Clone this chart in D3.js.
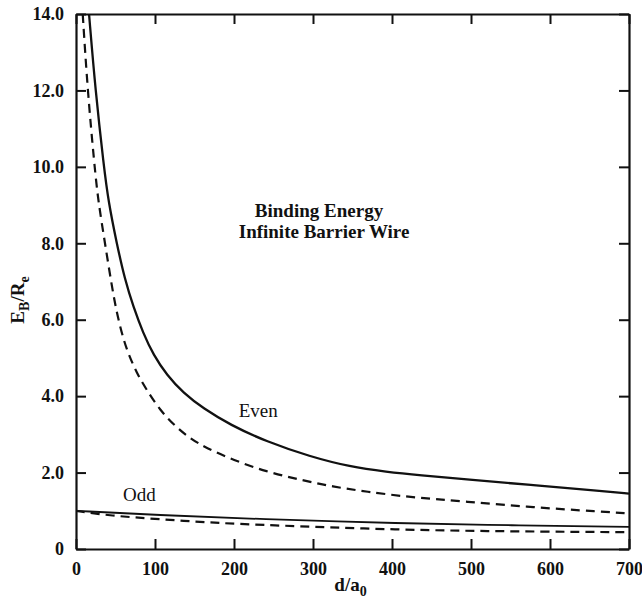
<!DOCTYPE html>
<html>
<head>
<meta charset="utf-8">
<script src="https://cdn.jsdelivr.net/npm/d3@7"></script>
<style>
  body { margin: 0; background: #fff; }
  text { font-family: "Liberation Serif", "DejaVu Serif", serif; fill: #111; }
</style>
</head>
<body>
<svg id="chart" width="642" height="598"></svg>
<script>
// values: d/a0 and E_B/R_e
const evenSolidD = [16.5, 24.6, 35.3, 41, 51.5, 62, 72.6, 85, 98, 115, 136, 161, 195, 241, 296, 347, 393, 435, 494, 579, 663, 700];
const evenSolidE = [14.0, 12.0, 10.0, 9.1, 8.0, 7.04, 6.34, 5.65, 5.08, 4.55, 4.08, 3.68, 3.25, 2.81, 2.42, 2.15, 2.02, 1.93, 1.82, 1.67, 1.52, 1.45];

const evenDashD = [8.5, 14.7, 23.5, 28.2, 36.7, 48.1, 55.7, 64, 77, 89.5, 106, 125.3, 144, 165, 199, 241, 284, 325, 368, 420, 494, 579, 663, 700];
const evenDashE = [14.0, 12.0, 10.0, 9.1, 8.0, 6.52, 5.82, 5.21, 4.6, 4.16, 3.64, 3.22, 2.90, 2.64, 2.33, 2.02, 1.81, 1.63, 1.50, 1.36, 1.24, 1.09, 0.98, 0.93];

const oddSolidD = [0, 102, 233, 410, 550, 700];
const oddSolidE = [1.0, 0.89, 0.78, 0.67, 0.62, 0.58];

const oddDashD = [0, 43, 106, 170, 233, 410, 550, 700];
const oddDashE = [1.0, 0.87, 0.78, 0.69, 0.63, 0.50, 0.46, 0.44];

const xTicks = [0, 100, 200, 300, 400, 500, 600, 700];
const yTicks = [0, 2, 4, 6, 8, 10, 12, 14];

const svg = d3.select("#chart");
const margin = { top: 14, right: 13, bottom: 49, left: 76 };
const width = 642 - margin.left - margin.right;
const height = 598 - margin.top - margin.bottom;

const g = svg.append("g")
  .attr("transform", `translate(${margin.left},${margin.top})`);

const x = d3.scaleLinear().domain([0, 700]).range([0, width]);
const y = d3.scaleLinear().domain([0, 14]).range([height, 0]);

g.append("clipPath").attr("id", "clip")
  .append("rect").attr("width", width).attr("height", height);

const tickLen = 10;

// axes: ticks point inward on all four sides
const xAxisBottom = g.append("g")
  .attr("transform", `translate(0,${height})`)
  .call(d3.axisBottom(x).tickValues(xTicks).tickSizeInner(-tickLen).tickSizeOuter(0).tickPadding(20)
    .tickFormat(d => d));
const yAxisLeft = g.append("g")
  .call(d3.axisLeft(y).tickValues(yTicks).tickSizeInner(-tickLen).tickSizeOuter(0).tickPadding(20)
    .tickFormat(d => d === 0 ? "0" : d3.format(".1f")(d)));
const xAxisTop = g.append("g")
  .call(d3.axisTop(x).tickValues(xTicks).tickSizeInner(-tickLen).tickSizeOuter(0).tickFormat(""));
const yAxisRight = g.append("g")
  .attr("transform", `translate(${width},0)`)
  .call(d3.axisRight(y).tickValues(yTicks).tickSizeInner(-tickLen).tickSizeOuter(0).tickFormat(""));

[xAxisBottom, yAxisLeft, xAxisTop, yAxisRight].forEach(a => {
  a.select(".domain").attr("stroke", "#111").attr("stroke-width", 2.2);
  a.selectAll(".tick line").attr("stroke", "#111").attr("stroke-width", 2);
  a.selectAll("text")
    .style("font-family", "'Liberation Serif', serif")
    .style("font-size", "18px")
    .style("font-weight", "bold")
    .attr("fill", "#111");
});
yAxisLeft.selectAll("text").attr("dx", "8px");
xAxisBottom.selectAll("text").attr("dy", "0.35em");

function toPoints(ds, es) {
  return ds.map((d, i) => [d, es[i]]);
}

// basis spline to smooth out reading noise
const line = d3.line()
  .x(d => x(d[0]))
  .y(d => y(d[1]))
  .curve(d3.curveBasis);

const curves = [
  { pts: toPoints(evenSolidD, evenSolidE), dash: null, w: 2.3 },
  { pts: toPoints(evenDashD, evenDashE), dash: "9,6", w: 2.2 },
  { pts: toPoints(oddSolidD, oddSolidE), dash: null, w: 1.8 },
  { pts: toPoints(oddDashD, oddDashE), dash: "9,6", w: 2.2 }
];

g.append("g").attr("clip-path", "url(#clip)")
  .selectAll("path")
  .data(curves)
  .enter()
  .append("path")
  .attr("d", d => line(d.pts))
  .attr("fill", "none")
  .attr("stroke", "#111")
  .attr("stroke-width", d => d.w)
  .attr("stroke-dasharray", d => d.dash);

// annotations
g.append("text")
  .attr("x", x(307.6)).attr("y", y(8.69))
  .attr("text-anchor", "middle")
  .style("font-size", "19px").style("font-weight", "bold")
  .text("Binding Energy");
g.append("text")
  .attr("x", x(314)).attr("y", y(8.14))
  .attr("text-anchor", "middle")
  .style("font-size", "19px").style("font-weight", "bold")
  .text("Infinite Barrier Wire");

g.append("text")
  .attr("x", x(206)).attr("y", y(3.45))
  .style("font-size", "19px")
  .text("Even");
g.append("text")
  .attr("x", x(59.5)).attr("y", y(1.26))
  .style("font-size", "19px")
  .text("Odd");

// axis titles
const xt = svg.append("text")
  .attr("x", margin.left + width / 2 - 2)
  .attr("y", 591)
  .attr("text-anchor", "middle")
  .style("font-size", "19px").style("font-weight", "bold");
xt.append("tspan").text("d/a");
xt.append("tspan").attr("dy", 5).style("font-size", "14px").text("0");

const yt = svg.append("text")
  .attr("transform", "translate(24,300) rotate(-90)")
  .attr("text-anchor", "middle")
  .style("font-size", "19px").style("font-weight", "bold");
yt.append("tspan").text("E");
yt.append("tspan").attr("dy", 5).style("font-size", "14px").text("B");
yt.append("tspan").attr("dy", -5).text("/R");
yt.append("tspan").attr("dy", 5).style("font-size", "14px").text("e");
</script>
</body>
</html>
